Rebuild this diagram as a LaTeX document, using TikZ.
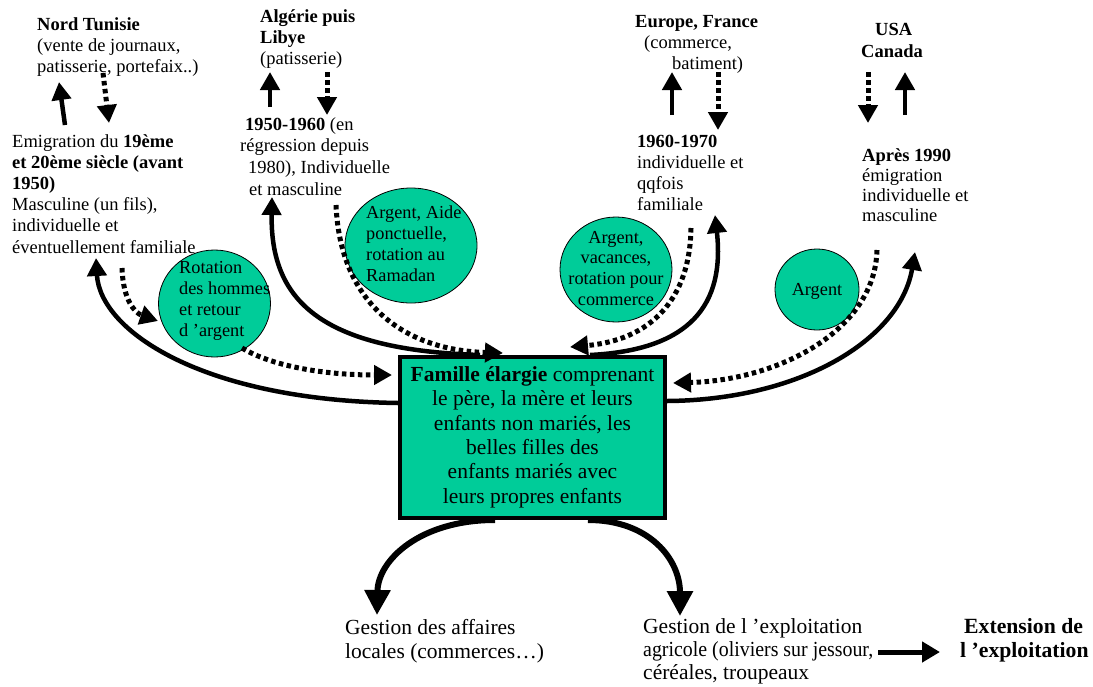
\documentclass[tikz,border=0pt]{standalone}
\usepackage{fontspec}
\usepackage{graphicx}
\setmainfont{Liberation Serif}
\usetikzlibrary{arrows.meta,shapes.geometric}
\definecolor{famgreen}{RGB}{0,204,153}
\newcommand\blk[2]{\begin{tabular}[t]{@{}#1@{}}#2\end{tabular}}
\begin{document}
\begin{tikzpicture}[x=1pt,y=-1pt,
  txt/.style={inner sep=0pt, anchor=base west, font=\fontsize{18.5}{21.4}\selectfont},
  ctxt/.style={inner sep=0pt, anchor=base west, font=\fontsize{18.3}{21.3}\selectfont},
  btxt/.style={inner sep=0pt, anchor=base west, font=\fontsize{21.5}{24.5}\selectfont},
  bubble/.style={ellipse, draw=black, line width=0.8pt, fill=famgreen, inner sep=0pt},
  sol/.style={line width=4.5pt, -{Triangle[length=18pt,width=19pt]}},
  dot/.style={line width=5pt, dash pattern=on 4.5pt off 3.5pt, -{Triangle[length=18pt,width=19pt]}},
  bsol/.style={line width=6pt, -{Triangle[length=25pt,width=25pt]}},
]
\useasboundingbox (0,0) rectangle (1093,686);

% bubbles
\node[bubble, minimum width=112pt, minimum height=107pt] (c1) at (214.5,303.5) {};
\node[bubble, minimum width=132pt, minimum height=115pt] (c2) at (411,245.5) {};
\node[bubble, minimum width=112pt, minimum height=105pt] (c3) at (616,269.5) {};
\node[bubble, minimum width=84pt, minimum height=81pt] (c4) at (817,289.5) {};

\node[ctxt] (c1t) at (179,273) {\blk{l}{Rotation\\des hommes\\et retour\\d ’argent}};
\node[ctxt] (c2t) at (366,218) {\blk{l}{Argent, Aide\\ponctuelle,\\rotation au\\Ramadan}};
\node[ctxt, anchor=base, font=\fontsize{18.3}{20.7}\selectfont] (c3t) at (616,243) {\blk{c}{Argent,\\vacances,\\rotation pour\\commerce}};
\node[ctxt, anchor=base] (c4t) at (817,295) {Argent};

% central box
\node[draw=black, line width=4pt, fill=famgreen, minimum width=265pt, minimum height=161pt, inner sep=0pt,
      font=\fontsize{21.5}{24.3}\selectfont] (fam) at (532.5,437.5)
  {\blk{c}{\textbf{Famille élargie} comprenant\\le père, la mère et leurs\\enfants non mariés, les\\belles filles des\\enfants mariés avec\\leurs propres enfants}};

% top texts
\node[txt] (nord) at (37,30) {\blk{l}{\textbf{Nord Tunisie}\\(vente de journaux,\\patisserie, portefaix..)}};
\node[txt, font=\fontsize{18.5}{21.2}\selectfont] (emig) at (12,147) {\blk{l}{Emigration du \textbf{19ème}\\\textbf{et 20ème siècle (avant}\\\textbf{1950)}\\Masculine (un fils),\\individuelle et\\éventuellement familiale}};
\node[txt] (alg) at (260,22) {\blk{l}{\textbf{Algérie puis}\\\textbf{Libye}\\(patisserie)}};
\node[txt, font=\fontsize{18.5}{21.7}\selectfont] (p1950) at (245,130) {\blk{l}{\textbf{1950-1960} (en\\\hspace*{-5pt}régression depuis\\\hspace*{3pt}1980), Individuelle\\\hspace*{4pt}et masculine}};
\node[txt] (eur) at (635,27) {\blk{l}{\textbf{Europe, France}\\\hspace*{9pt}(commerce,\\\hspace*{37pt}batiment)}};
\node[txt, font=\fontsize{18.5}{21}\selectfont] (p1960) at (637,147) {\blk{l}{\textbf{1960-1970}\\individuelle et\\qqfois\\familiale}};
\node[txt, font=\fontsize{18.5}{22}\selectfont] (usa) at (861,35) {\blk{l}{\hspace*{14pt}\textbf{USA}\\\textbf{Canada}}};
\node[txt, font=\fontsize{18.5}{20.2}\selectfont] (p1990) at (862,161) {\blk{l}{\textbf{Après 1990}\\émigration\\individuelle et\\masculine}};

% bottom texts
\node[btxt] (gest1) at (345,634) {\blk{l}{Gestion des affaires\\locales (commerces…)}};
\node[btxt, font=\fontsize{21.5}{23.2}\selectfont] (gest2) at (643,633) {\blk{l}{Gestion de l ’exploitation\\\scalebox{0.925}[1]{agricole (oliviers sur jessour,}\\céréales, troupeaux}};
\node[btxt, font=\fontsize{21.7}{24}\selectfont] (ext) at (964,633) {\blk{l}{\textbf{Extension de}\\\hspace*{-4pt}\textbf{l ’exploitation}}};

% coordinates for free ends
\coordinate (n1a) at (65,125);  \coordinate (n1b) at (59,82);
\coordinate (n2a) at (103,73);  \coordinate (n2b) at (109,123);
\coordinate (a1a) at (270,107); \coordinate (a1b) at (270,72);
\coordinate (a2a) at (327,72);  \coordinate (a2b) at (327,115);
\coordinate (e1a) at (672,115); \coordinate (e1b) at (672,72);
\coordinate (e2a) at (718,72);  \coordinate (e2b) at (718,130);
\coordinate (u1a) at (868,72);  \coordinate (u1b) at (868,123);
\coordinate (u2a) at (905,115); \coordinate (u2b) at (905,72);

\coordinate (t1) at (96,258);
\coordinate (s2) at (122,268);  \coordinate (t2) at (158,321);
\coordinate (s3) at (242,348);  \coordinate (t3) at (392,375);
\coordinate (t4) at (272,197);
\coordinate (s5) at (336,205);  \coordinate (t5) at (503,353);
\coordinate (t6) at (715,215);
\coordinate (s7) at (691,228);  \coordinate (t7) at (570,347);
\coordinate (t8) at (915,252);
\coordinate (s9) at (877,250);  \coordinate (t9) at (673,383);
\coordinate (t10) at (377,615);
\coordinate (t11) at (680,616);
\coordinate (x1) at (878,652);  \coordinate (x2) at (940,652);

% top straight arrows
\draw[sol] (n1a) -- (n1b);
\draw[dot] (n2a) -- (n2b);
\draw[sol] (a1a) -- (a1b);
\draw[dot] (a2a) -- (a2b);
\draw[sol] (e1a) -- (e1b);
\draw[dot] (e2a) -- (e2b);
\draw[dot] (u1a) -- (u1b);
\draw[sol] (u2a) -- (u2b);

% curved connectors
\draw[sol] ([yshift=34.5pt]fam.west) .. controls (200,400) and (100,330) .. (t1);
\draw[dot] (s2) .. controls (123,300) and (135,313) .. (t2);
\draw[dot] (s3) .. controls (270,365) and (320,375) .. (t3);
\draw[sol] ([xshift=-52.5pt]fam.north) .. controls (320,350) and (270,300) .. (t4);
\draw[dot] (s5) .. controls (340,300) and (400,350) .. (t5);
\draw[sol] ([xshift=57.5pt]fam.north) .. controls (690,350) and (725,305) .. (t6);
\draw[dot] (s7) .. controls (690,300) and (650,340) .. (t7);
\draw[sol] ([yshift=36.5pt]fam.east) .. controls (800,400) and (900,340) .. (t8);
\draw[dot] (s9) .. controls (875,330) and (780,380) .. (t9);
\draw[bsol] ([xshift=-37.5pt]fam.south) .. controls (420,520) and (378,560) .. (t10);
\draw[bsol] ([xshift=55.5pt]fam.south) .. controls (650,520) and (680,560) .. (t11);
\draw[line width=5pt, -{Triangle[length=18pt,width=20pt]}] (x1) -- (x2);
\end{tikzpicture}
\end{document}
